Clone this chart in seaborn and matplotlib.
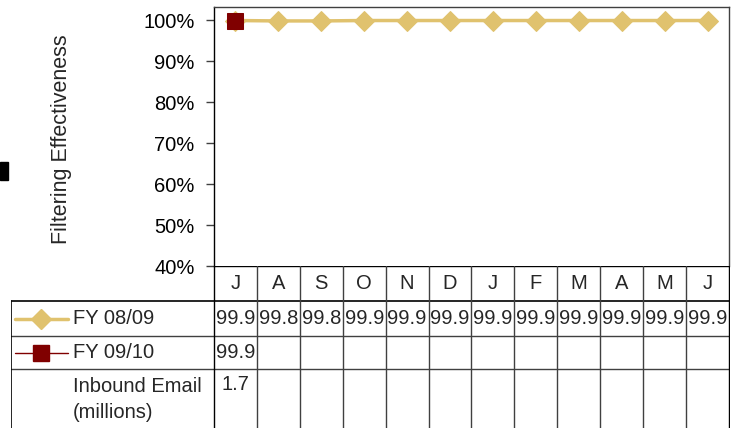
import matplotlib
matplotlib.use("Agg")
import matplotlib.pyplot as plt
import seaborn as sns
import numpy as np
import pandas as pd
from matplotlib.patches import Rectangle

months = ["J", "A", "S", "O", "N", "D", "J", "F", "M", "A", "M", "J"]
fy0809 = [99.9, 99.8, 99.8, 99.9, 99.9, 99.9, 99.9, 99.9, 99.9, 99.9, 99.9, 99.9]
fy0910 = [99.9]
inbound_email = [1.7]
y_ticks = [40, 50, 60, 70, 80, 90, 100]

gold = "#E0C26E"
maroon = "#800000"
grid_col = "#404040"

sns.set_theme(style="white")
plt.rcParams["font.family"] = ["Liberation Sans", "DejaVu Sans"]
fs = 14.5

W, H = 734, 428
fig = plt.figure(figsize=(W / 100, H / 100), dpi=100)

# plot area in pixel coords of the reference
left, right, top, bottom = 214, 729, 7, 266
ax = fig.add_axes([left / W, 1 - bottom / H, (right - left) / W, (bottom - top) / H])

df1 = pd.DataFrame({"m": np.arange(len(fy0809)), "v": fy0809})
df2 = pd.DataFrame({"m": np.arange(len(fy0910)), "v": fy0910})
sns.lineplot(data=df1, x="m", y="v", ax=ax, color=gold, lw=2.5, marker="D",
             markersize=10, markeredgecolor=gold, zorder=3)
sns.lineplot(data=df2, x="m", y="v", ax=ax, color=maroon, lw=1, marker="s",
             markersize=12, markeredgecolor=maroon, zorder=4)

ax.set_xlim(-0.5, len(months) - 0.5)
ax.set_ylim(40, 103.2)
ax.set_yticks(y_ticks)
ax.set_yticklabels([f"{t}%" for t in y_ticks], fontsize=fs, color="black")
ax.set_xticks([])
ax.set_xlabel("")
ax.set_ylabel("")
ax.tick_params(axis="y", left=True, length=6, width=1, color=grid_col, pad=8)
for s in ["top", "right"]:
    ax.spines[s].set_color(grid_col)
    ax.spines[s].set_linewidth(1)
ax.spines["left"].set_color("black")
ax.spines["left"].set_linewidth(1)
ax.spines["bottom"].set_visible(False)

fig.text(62 / W, 1 - 139 / H, "Filtering Effectiveness", rotation=90,
         ha="center", va="center", fontsize=15.5)

# data table underneath
tab_left = 11
tab_h = H - bottom
col_w = (right - left) / len(months)
lab_w = (left - tab_left) / col_w
axt = fig.add_axes([tab_left / W, 0, (right - tab_left + 1) / W, tab_h / H])
axt.set_xlim(-0.5 - lab_w, len(months) - 0.5 + 1 / col_w)
axt.set_ylim(tab_h, 0)
axt.axis("off")

row_edges = [0, 35, 70, 103]
x_lab = -0.5 - lab_w
x_edges = np.arange(len(months) + 1) - 0.5

# horizontal lines
axt.plot([-0.5, x_edges[-1]], [row_edges[0]] * 2, color="black", lw=1)
axt.plot([x_lab, x_edges[-1]], [row_edges[1]] * 2, color="black", lw=1.2)
for r in row_edges[2:]:
    axt.plot([x_lab, x_edges[-1]], [r, r], color=grid_col, lw=1)
# vertical lines
axt.plot([x_lab, x_lab], [row_edges[1], tab_h], color="black", lw=1.2)
for i, xe in enumerate(x_edges):
    c = "black" if i in (0, len(x_edges) - 1) else grid_col
    axt.plot([xe, xe], [0, tab_h], color=c, lw=1)

for i, m in enumerate(months):
    axt.text(i, 17.5, m, ha="center", va="center", fontsize=fs)
for i, v in enumerate(fy0809):
    axt.text(i, 52.5, f"{v:.1f}", ha="center", va="center", fontsize=fs)
for i, v in enumerate(fy0910):
    axt.text(i, 86.5, f"{v:.1f}", ha="center", va="center", fontsize=fs)
for i, v in enumerate(inbound_email):
    axt.text(i, 119, f"{v:.1f}", ha="center", va="center", fontsize=fs)

# row headers with legend keys
kx0 = x_lab + 4 / col_w
kx1 = x_lab + 57 / col_w
kxm = (kx0 + kx1) / 2
tx = x_lab + 62 / col_w
axt.plot([kx0, kx1], [52.5, 52.5], color=gold, lw=2.5)
axt.plot([kxm], [52.5], marker="D", color=gold, markersize=10)
axt.plot([kx0, kx1], [86.5, 86.5], color=maroon, lw=1)
axt.plot([kxm], [86.5], marker="s", color=maroon, markersize=12)
axt.text(tx, 52.5, "FY 08/09", ha="left", va="center", fontsize=fs)
axt.text(tx, 86.5, "FY 09/10", ha="left", va="center", fontsize=fs)
axt.text(tx, 121, "Inbound Email", ha="left", va="center", fontsize=fs)
axt.text(tx, 146, "(millions)", ha="left", va="center", fontsize=fs)

# small dark block at the left edge
fig.patches.append(Rectangle((0, 1 - 180 / H), 8 / W, 18 / H,
                             transform=fig.transFigure, color="black"))

fig.savefig("out.png", dpi=100)
